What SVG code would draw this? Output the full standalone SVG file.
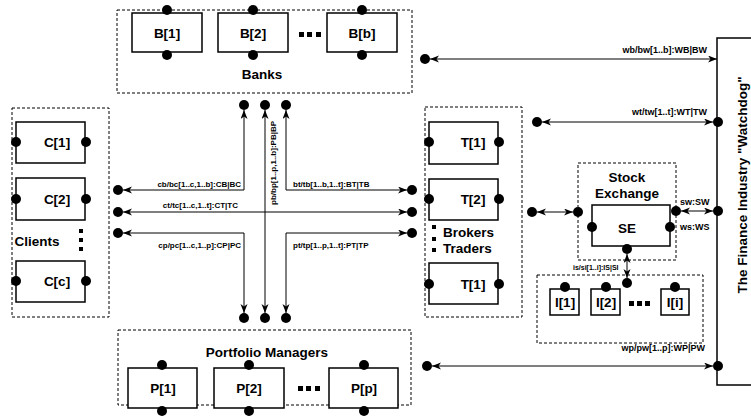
<svg xmlns="http://www.w3.org/2000/svg" width="751" height="418" viewBox="0 0 751 418">
<defs>
<marker id="ar" markerUnits="userSpaceOnUse" markerWidth="10" markerHeight="8" refX="9" refY="3.5" orient="auto-start-reverse">
<path d="M0,0 L9,3.5 L0,7 L2.5,3.5 z" fill="#000"/>
</marker>
</defs>
<style>
.cont{fill:none;stroke:#000;stroke-width:1;stroke-dasharray:3,2}
.box{fill:#fff;stroke:#000;stroke-width:1.5}
.port{fill:#000}
.lbl{font-family:"Liberation Sans",Arial,sans-serif;font-weight:bold;font-size:13.5px;fill:#000}
.mid{text-anchor:middle}
.sm{font-family:"Liberation Sans",Arial,sans-serif;font-weight:bold;font-size:8px;fill:#000}
.ws{font-family:"Liberation Sans",Arial,sans-serif;font-weight:bold;font-size:9px;fill:#000}
.end{text-anchor:end}
.cn{fill:none;stroke:#000;stroke-width:1;marker-start:url(#ar);marker-end:url(#ar)}
.dot{fill:#000}
</style>
<rect x="0" y="0" width="751" height="418" fill="#fff"/>

<g id="banks">
<rect class="cont" x="117" y="10" width="295" height="83"/>
<text class="lbl mid" x="262" y="79">Banks</text>
<rect class="dot" x="299" y="32" width="5" height="5"/>
<rect class="dot" x="307" y="32" width="5" height="5"/>
<rect class="dot" x="316" y="32" width="5" height="5"/>
</g>
<g id="B1">
<rect class="box" x="132" y="13" width="70" height="39"/>
<text class="lbl mid" x="167" y="38">B[1]</text>
<circle class="port" cx="167" cy="10" r="5"/><circle class="port" cx="167" cy="55" r="5"/>
</g>
<g id="B2">
<rect class="box" x="218" y="13" width="70" height="39"/>
<text class="lbl mid" x="253" y="38">B[2]</text>
<circle class="port" cx="253" cy="10" r="5"/><circle class="port" cx="253" cy="55" r="5"/>
</g>
<g id="Bb">
<rect class="box" x="327" y="13" width="70" height="39"/>
<text class="lbl mid" x="362" y="38">B[b]</text>
<circle class="port" cx="362" cy="10" r="5"/><circle class="port" cx="362" cy="55" r="5"/>
</g>

<g id="clients">
<rect class="cont" x="12" y="108" width="97" height="209"/>
<text class="lbl mid" x="37" y="246">Clients</text>
<rect class="dot" x="79" y="229" width="4" height="4"/>
<rect class="dot" x="79" y="238" width="4" height="4"/>
<rect class="dot" x="79" y="247" width="4" height="4"/>
</g>
<g id="C1">
<rect class="box" x="16" y="122" width="69" height="41"/>
<text class="lbl mid" x="57" y="147">C[1]</text>
<circle class="port" cx="16" cy="142" r="5"/><circle class="port" cx="86" cy="142" r="5"/>
</g>
<g id="C2">
<rect class="box" x="16" y="178" width="69" height="42"/>
<text class="lbl mid" x="57" y="204">C[2]</text>
<circle class="port" cx="16" cy="199" r="5"/><circle class="port" cx="86" cy="199" r="5"/>
</g>
<g id="Cc">
<rect class="box" x="16" y="261" width="69" height="41"/>
<text class="lbl mid" x="57" y="286">C[c]</text>
<circle class="port" cx="16" cy="281" r="5"/><circle class="port" cx="86" cy="281" r="5"/>
</g>

<g id="brokers">
<rect class="cont" x="425" y="107" width="97" height="210"/>
<text class="lbl" x="443" y="237">Brokers</text>
<text class="lbl" x="443" y="253">Traders</text>
<rect class="dot" x="432" y="225" width="4" height="4"/>
<rect class="dot" x="432" y="237" width="4" height="4"/>
<rect class="dot" x="432" y="248" width="4" height="4"/>
</g>
<g id="T1">
<rect class="box" x="429" y="122" width="69" height="42"/>
<text class="lbl mid" x="473" y="147">T[1]</text>
<circle class="port" cx="429" cy="142" r="5"/><circle class="port" cx="499" cy="142" r="5"/>
</g>
<g id="T2">
<rect class="box" x="429" y="179" width="69" height="41"/>
<text class="lbl mid" x="473" y="204">T[2]</text>
<circle class="port" cx="429" cy="199" r="5"/><circle class="port" cx="499" cy="199" r="5"/>
</g>
<g id="T3">
<rect class="box" x="429" y="263" width="69" height="41"/>
<text class="lbl mid" x="473" y="289">T[1]</text>
<circle class="port" cx="429" cy="284" r="5"/><circle class="port" cx="499" cy="284" r="5"/>
</g>

<g id="stockexchange">
<rect class="cont" x="578" y="163" width="98" height="97"/>
<text class="lbl mid" x="627" y="182">Stock</text>
<text class="lbl mid" x="627" y="198">Exchange</text>
<circle class="port" cx="578" cy="212" r="5"/>
<circle class="port" cx="676" cy="211" r="5"/>
</g>
<g id="SE">
<rect class="box" x="592" y="205" width="78" height="41"/>
<text class="lbl mid" x="627" y="233">SE</text>
<circle class="port" cx="592" cy="227" r="5"/><circle class="port" cx="670" cy="227" r="5"/>
<circle class="port" cx="627" cy="249" r="5"/>
</g>

<g id="investors">
<rect class="cont" x="537" y="275" width="166" height="68"/>
<circle class="port" cx="627" cy="283" r="5"/>
<rect class="dot" x="629" y="301" width="5" height="5"/>
<rect class="dot" x="637" y="301" width="5" height="5"/>
<rect class="dot" x="645" y="301" width="5" height="5"/>
</g>
<g id="I1">
<rect class="box" x="550" y="289" width="29" height="26"/>
<text class="lbl mid" x="565" y="307">I[1]</text>
<circle class="port" cx="565" cy="287" r="5"/>
</g>
<g id="I2">
<rect class="box" x="591" y="289" width="29" height="26"/>
<text class="lbl mid" x="606" y="307">I[2]</text>
<circle class="port" cx="606" cy="287" r="5"/>
</g>
<g id="Ii">
<rect class="box" x="661" y="289" width="28" height="26"/>
<text class="lbl mid" x="675" y="307">I[i]</text>
<circle class="port" cx="675" cy="287" r="5"/>
</g>

<g id="portfolio">
<rect class="cont" x="118" y="330" width="293" height="75"/>
<text class="lbl mid" x="267" y="357">Portfolio Managers</text>
<rect class="dot" x="298" y="386" width="5" height="5"/>
<rect class="dot" x="306" y="386" width="5" height="5"/>
<rect class="dot" x="315" y="386" width="5" height="5"/>
</g>
<g id="P1">
<rect class="box" x="128" y="368" width="69" height="40"/>
<text class="lbl mid" x="163" y="393">P[1]</text>
<circle class="port" cx="162" cy="365" r="5"/><circle class="port" cx="162" cy="411" r="5"/>
</g>
<g id="P2">
<rect class="box" x="214" y="368" width="70" height="40"/>
<text class="lbl mid" x="249" y="393">P[2]</text>
<circle class="port" cx="249" cy="365" r="5"/><circle class="port" cx="249" cy="411" r="5"/>
</g>
<g id="Pp">
<rect class="box" x="329" y="368" width="69" height="40"/>
<text class="lbl mid" x="364" y="393">P[p]</text>
<circle class="port" cx="364" cy="365" r="5"/><circle class="port" cx="364" cy="411" r="5"/>
</g>

<g id="watchdog">
<rect fill="#fff" stroke="#000" stroke-width="1.5" x="717" y="38" width="50" height="347"/>
<text class="lbl mid" transform="translate(747,185) rotate(-90)">The Finance Industry "Watchdog"</text>
<circle class="port" cx="718" cy="122" r="5"/>
<circle class="port" cx="718" cy="211" r="5"/>
<circle class="port" cx="718" cy="366" r="5"/>
</g>

<g id="connectors">
<circle class="port" cx="244" cy="105" r="5"/>
<circle class="port" cx="265" cy="105" r="5"/>
<circle class="port" cx="286" cy="105" r="5"/>
<circle class="port" cx="244" cy="318" r="5"/>
<circle class="port" cx="265" cy="318" r="5"/>
<circle class="port" cx="286" cy="318" r="5"/>
<circle class="port" cx="118" cy="190" r="5"/>
<circle class="port" cx="118" cy="212" r="5"/>
<circle class="port" cx="118" cy="233" r="5"/>
<circle class="port" cx="412" cy="190" r="5"/>
<circle class="port" cx="412" cy="212" r="5"/>
<circle class="port" cx="412" cy="233" r="5"/>
<path class="cn" d="M244,110 V190 H123"/>
<path class="cn" d="M123,212 H407"/>
<path class="cn" d="M123,233 H244 V313"/>
<path class="cn" d="M265,110 V313"/>
<path class="cn" d="M286,110 V190 H407"/>
<path class="cn" d="M407,233 H286 V313"/>
<text class="sm end" x="241" y="187">cb/bc[1..c,1..b]:CB|BC</text>
<text class="sm end" x="238" y="208">ct/tc[1..c,1..t]:CT|TC</text>
<text class="sm end" x="241" y="248">cp/pc[1..c,1..p]:CP|PC</text>
<text class="sm" x="293" y="187">bt/tb[1..b,1..t]:BT|TB</text>
<text class="sm" x="293" y="248">pt/tp[1..p,1..t]:PT|TP</text>
<text class="sm" transform="translate(276,205) rotate(-90)">pb/bp[1..p,1..b]:PB|BP</text>

<circle class="port" cx="425" cy="59" r="5"/>
<path class="cn" d="M430,59 H717"/>
<text class="ws end" x="707" y="53">wb/bw[1..b]:WB|BW</text>
<circle class="port" cx="537" cy="122" r="5"/>
<path class="cn" d="M542,122 H713"/>
<text class="ws end" x="707" y="115">wt/tw[1..t]:WT|TW</text>
<circle class="port" cx="532" cy="212" r="5"/>
<path class="cn" d="M537,212 H573"/>
<path class="cn" d="M681,211 H713"/>
<text class="ws" x="680" y="205">sw:SW</text>
<text class="ws" x="680" y="230">ws:WS</text>
<path class="cn" d="M627,254 V278"/>
<text class="sm" x="573" y="270" style="font-size:7px">is/si[1..i]:IS|SI</text>
<circle class="port" cx="427" cy="366" r="5"/>
<path class="cn" d="M432,366 H713"/>
<text class="ws end" x="705" y="351">wp/pw[1..p]:WP|PW</text>
</g>
</svg>
